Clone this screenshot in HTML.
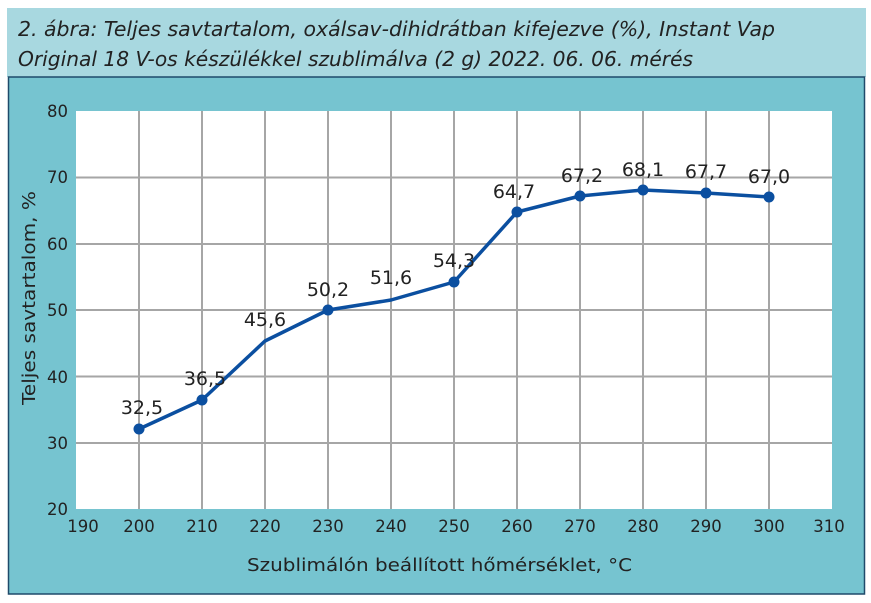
<!DOCTYPE html>
<html><head><meta charset="utf-8"><style>
html,body{margin:0;padding:0;background:#fff;}
svg{display:block;font-family:"DejaVu Sans","Liberation Sans",sans-serif;}
</style></head><body>
<svg width="871" height="603" viewBox="0 0 871 603" xmlns="http://www.w3.org/2000/svg">
<rect x="0" y="0" width="871" height="603" fill="#fff"/>
<rect x="7" y="8" width="859" height="69" fill="#a8d8e0"/>
<text x="18" y="36" font-size="20" font-style="italic" fill="#222" textLength="757" lengthAdjust="spacingAndGlyphs">2. ábra: Teljes savtartalom, oxálsav-dihidrátban kifejezve (%), Instant Vap</text>
<text x="18" y="66" font-size="20" font-style="italic" fill="#222" textLength="675" lengthAdjust="spacingAndGlyphs">Original 18 V-os készülékkel szublimálva (2 g) 2022. 06. 06. mérés</text>
<rect x="8.5" y="77" width="856" height="517" fill="#76c4d0" stroke="#1f4a6a" stroke-width="1.5"/>
<rect x="76" y="111" width="756" height="398" fill="#fff"/>
<g stroke="#a6a6a6" stroke-width="2">
<line x1="139" y1="111" x2="139" y2="509"/><line x1="202" y1="111" x2="202" y2="509"/>
<line x1="265" y1="111" x2="265" y2="509"/><line x1="328" y1="111" x2="328" y2="509"/>
<line x1="391" y1="111" x2="391" y2="509"/><line x1="454" y1="111" x2="454" y2="509"/>
<line x1="517" y1="111" x2="517" y2="509"/><line x1="580" y1="111" x2="580" y2="509"/>
<line x1="643" y1="111" x2="643" y2="509"/><line x1="706" y1="111" x2="706" y2="509"/>
<line x1="769" y1="111" x2="769" y2="509"/>
<line x1="76" y1="443" x2="832" y2="443"/><line x1="76" y1="376.5" x2="832" y2="376.5"/>
<line x1="76" y1="310" x2="832" y2="310"/><line x1="76" y1="244" x2="832" y2="244"/>
<line x1="76" y1="177.5" x2="832" y2="177.5"/>
</g>
<g font-size="16.5" fill="#222" text-anchor="end">
<text x="68" y="117">80</text><text x="68" y="183">70</text><text x="68" y="250">60</text>
<text x="68" y="316">50</text><text x="68" y="383">40</text><text x="68" y="449">30</text><text x="68" y="515">20</text>
</g>
<g font-size="16.5" fill="#222" text-anchor="middle">
<text x="83" y="532">190</text><text x="139" y="532">200</text><text x="202" y="532">210</text>
<text x="265" y="532">220</text><text x="328" y="532">230</text><text x="391" y="532">240</text>
<text x="454" y="532">250</text><text x="517" y="532">260</text><text x="580" y="532">270</text>
<text x="643" y="532">280</text><text x="706" y="532">290</text><text x="769" y="532">300</text>
<text x="829" y="532">310</text>
</g>
<text x="247" y="571" font-size="18" fill="#222" textLength="385" lengthAdjust="spacingAndGlyphs">Szublimálón beállított hőmérséklet, °C</text>
<text transform="translate(35,298) rotate(-90)" font-size="18" fill="#222" text-anchor="middle" textLength="214" lengthAdjust="spacingAndGlyphs">Teljes savtartalom, %</text>
<polyline fill="none" stroke="#0b4fa0" stroke-width="3.5" stroke-linejoin="round"
 points="139,429 202,400 265,341 328,310 391,300 454,282 517,212 580,196 643,190 706,193 769,197"/>
<g fill="#0b4fa0">
<circle cx="139" cy="429" r="5.5"/><circle cx="202" cy="400" r="5.5"/><circle cx="328" cy="310" r="5.5"/>
<circle cx="454" cy="282" r="5.5"/><circle cx="517" cy="212" r="5.5"/><circle cx="580" cy="196" r="5.5"/>
<circle cx="643" cy="190" r="5.5"/><circle cx="706" cy="193" r="5.5"/><circle cx="769" cy="197" r="5.5"/>
</g>
<g font-size="19" fill="#222" text-anchor="middle">
<text x="142" y="414">32,5</text><text x="205" y="385">36,5</text><text x="265" y="326">45,6</text>
<text x="328" y="296">50,2</text><text x="391" y="284">51,6</text><text x="454" y="267">54,3</text>
<text x="514" y="198">64,7</text><text x="582" y="182">67,2</text><text x="643" y="176">68,1</text>
<text x="706" y="178">67,7</text><text x="769" y="183">67,0</text>
</g>
</svg>
</body></html>
